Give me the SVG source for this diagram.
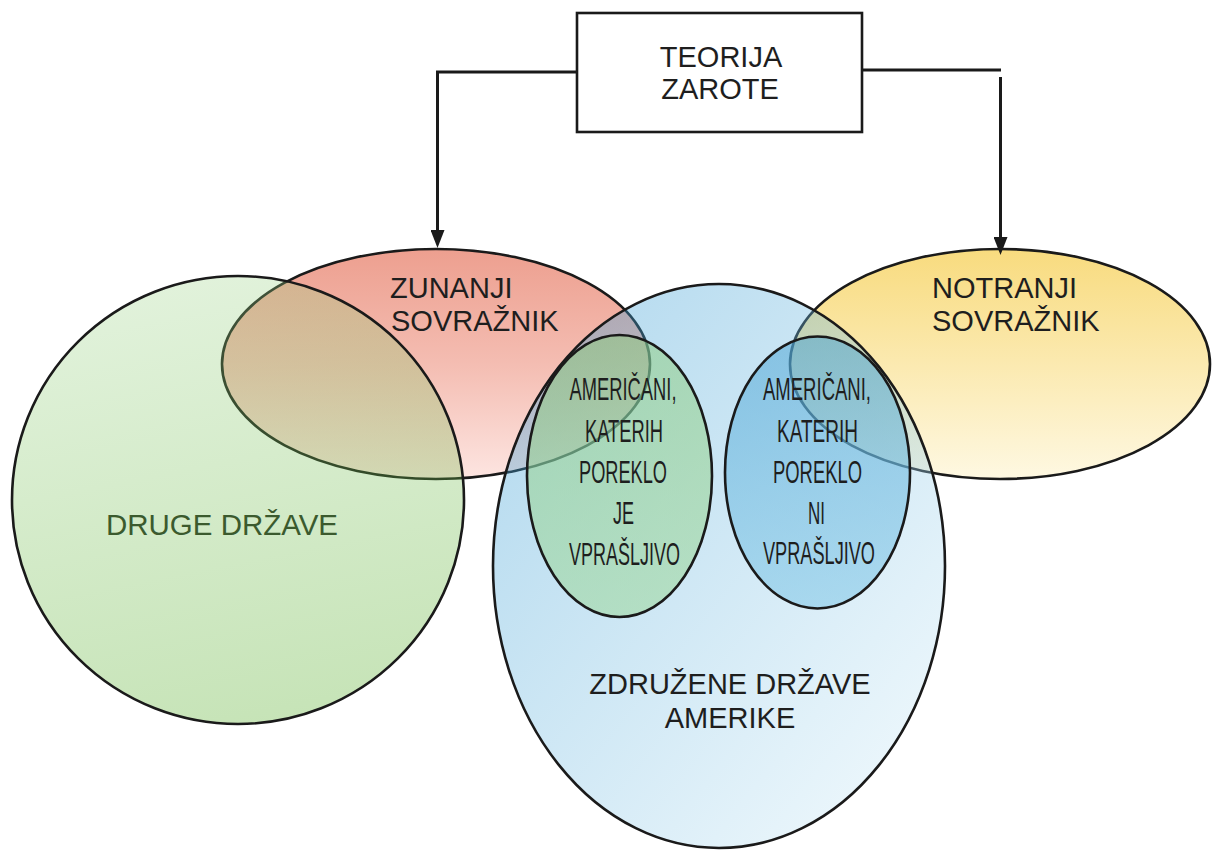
<svg xmlns="http://www.w3.org/2000/svg" width="1212" height="852" viewBox="0 0 1212 852">
<defs>
<linearGradient id="gRed" x1="0" y1="0" x2="0" y2="1">
<stop offset="0" stop-color="#ed9f8f"/><stop offset="0.5" stop-color="#f4bdb2"/><stop offset="1" stop-color="#fde5e1"/>
</linearGradient>
<linearGradient id="gYel" x1="0" y1="0" x2="0" y2="1">
<stop offset="0" stop-color="#f8db7e"/><stop offset="1" stop-color="#fef8e2"/>
</linearGradient>
<linearGradient id="gGreen" x1="0.3" y1="0" x2="0.5" y2="1">
<stop offset="0" stop-color="#9ed58a"/><stop offset="1" stop-color="#44a512"/>
</linearGradient>
<linearGradient id="gBlue" x1="0" y1="0" x2="1" y2="1">
<stop offset="0" stop-color="#1f90ce"/><stop offset="1" stop-color="#def2fa"/>
</linearGradient>
<linearGradient id="gInG" x1="0" y1="0" x2="0" y2="1">
<stop offset="0" stop-color="#8dcc7b"/><stop offset="1" stop-color="#99d694"/>
</linearGradient>
<linearGradient id="gInB" x1="0" y1="0" x2="0" y2="1">
<stop offset="0" stop-color="#46a1d3"/><stop offset="1" stop-color="#77c3e5"/>
</linearGradient>
<marker id="arr" markerUnits="userSpaceOnUse" markerWidth="18" markerHeight="14" refX="10" refY="7" orient="auto">
<path d="M0,0 L18,7 L0,14 z" fill="#1a1a1a"/>
</marker>
</defs>
<style>
.shape{stroke:#1a1a1a;stroke-width:2.6}
.lbl{font-family:"Liberation Sans",Arial,sans-serif;font-size:29px;fill:#1e1e1e}
.cond{font-family:"Liberation Sans",Arial,sans-serif;font-size:31px;fill:#1e1e1e;text-anchor:middle}
.conn{fill:none;stroke:#1a1a1a;stroke-width:3}
</style>
<rect width="1212" height="852" fill="#ffffff"/>

<g id="zunanji">
<ellipse class="shape" cx="436" cy="364" rx="214" ry="115" fill="url(#gRed)"/>
<text class="lbl" x="390" y="298">ZUNANJI</text>
<text class="lbl" x="391" y="331">SOVRAŽNIK</text>
</g>

<g id="notranji">
<ellipse class="shape" cx="1000" cy="364" rx="210" ry="115" fill="url(#gYel)"/>
<text class="lbl" x="932" y="298">NOTRANJI</text>
<text class="lbl" x="932" y="331">SOVRAŽNIK</text>
</g>

<g id="druge">
<ellipse class="shape" cx="238" cy="500" rx="226" ry="224" fill="url(#gGreen)" fill-opacity="0.3"/>
<text class="lbl" x="222" y="535" text-anchor="middle" style="fill:#3b5a2e" textLength="232" lengthAdjust="spacingAndGlyphs">DRUGE DRŽAVE</text>
</g>

<g id="zda">
<ellipse class="shape" cx="719" cy="566" rx="226" ry="282" fill="url(#gBlue)" fill-opacity="0.36"/>
<text class="lbl" x="730" y="694" text-anchor="middle">ZDRUŽENE DRŽAVE</text>
<text class="lbl" x="730" y="728" text-anchor="middle">AMERIKE</text>
</g>

<g id="vprasljivo">
<ellipse class="shape" cx="619.5" cy="476" rx="92.5" ry="141" fill="url(#gInG)" fill-opacity="0.5"/>
<text class="cond" x="623" y="400" textLength="107" lengthAdjust="spacingAndGlyphs">AMERIČANI,</text>
<text class="cond" x="624" y="442" textLength="78" lengthAdjust="spacingAndGlyphs">KATERIH</text>
<text class="cond" x="623" y="483" textLength="88" lengthAdjust="spacingAndGlyphs">POREKLO</text>
<text class="cond" x="623.5" y="524" textLength="21" lengthAdjust="spacingAndGlyphs">JE</text>
<text class="cond" x="624.5" y="565" textLength="111" lengthAdjust="spacingAndGlyphs">VPRAŠLJIVO</text>
</g>

<g id="nivprasljivo">
<ellipse class="shape" cx="817.5" cy="472.5" rx="92.5" ry="136" fill="url(#gInB)" fill-opacity="0.5"/>
<text class="cond" x="817" y="400" textLength="108" lengthAdjust="spacingAndGlyphs">AMERIČANI,</text>
<text class="cond" x="817.5" y="442" textLength="81" lengthAdjust="spacingAndGlyphs">KATERIH</text>
<text class="cond" x="817.5" y="483" textLength="89" lengthAdjust="spacingAndGlyphs">POREKLO</text>
<text class="cond" x="816.5" y="524" textLength="17" lengthAdjust="spacingAndGlyphs">NI</text>
<text class="cond" x="819" y="564" textLength="112" lengthAdjust="spacingAndGlyphs">VPRAŠLJIVO</text>
</g>

<g id="teorija">
<rect class="shape" x="577" y="13" width="285" height="119" fill="#ffffff" stroke-width="3"/>
<text class="lbl" x="721" y="67" text-anchor="middle">TEORIJA</text>
<text class="lbl" x="720" y="99" text-anchor="middle">ZAROTE</text>
</g>

<g id="connectors">
<path class="conn" d="M577,72 H437.5 V240" marker-end="url(#arr)"/>
<path class="conn" d="M862,70 H1001"/>
<path class="conn" d="M1000.5,77 V247" marker-end="url(#arr)"/>
</g>
</svg>
